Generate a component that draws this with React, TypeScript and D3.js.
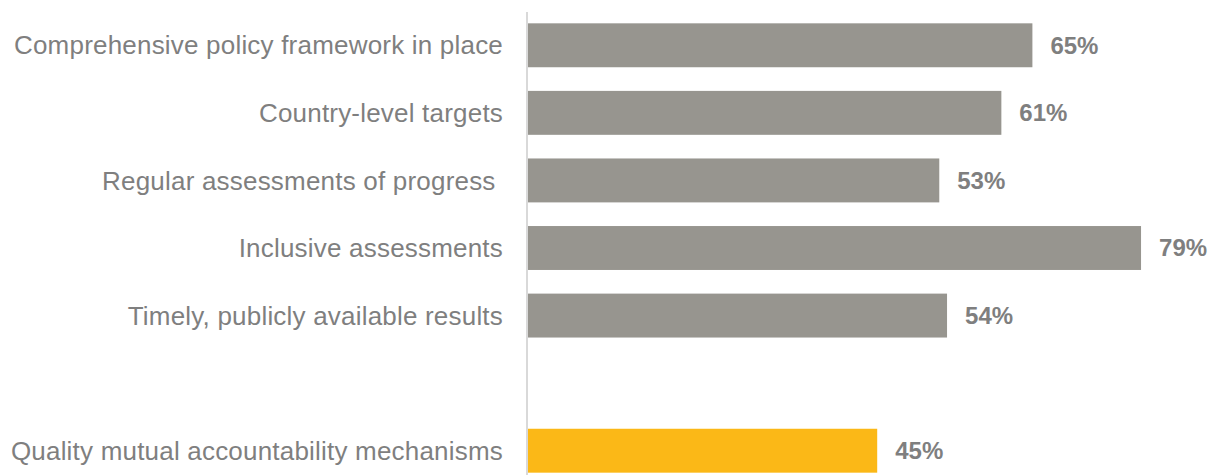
import React, { useEffect, useRef } from 'react';
import * as d3 from 'd3';

const categories = [
  'Comprehensive policy framework in place',
  'Country-level targets',
  'Regular assessments of progress ',
  'Inclusive assessments',
  'Timely, publicly available results',
  '',
  'Quality mutual accountability mechanisms',
];
const values = [0.65, 0.61, 0.53, 0.79, 0.54, null, 0.45];
const highlight = [false, false, false, false, false, false, true];

const W = 1211;
const H = 475;

const App: React.FC = () => {
  const svgRef = useRef<SVGSVGElement>(null);

  useEffect(() => {
    if (!svgRef.current) return;
    const svg = d3.select(svgRef.current);
    svg.selectAll('*').remove();

    const x0 = 528;
    const x = d3.scaleLinear().domain([0, 1]).range([x0, x0 + 776]);
    const y = d3.scaleBand<number>()
      .domain(d3.range(categories.length))
      .range([11.5, 484.5])
      .paddingInner(0.35)
      .paddingOuter(0.175);

    // bars
    svg.append('g')
      .selectAll('rect')
      .data(values.map((v, i) => ({ v, i })).filter(d => d.v !== null))
      .join('rect')
      .attr('x', x(0))
      .attr('y', d => y(d.i)!)
      .attr('width', d => x(d.v as number) - x(0))
      .attr('height', y.bandwidth())
      .attr('fill', d => highlight[d.i] ? '#FBB817' : '#97958F');

    // axis line
    svg.append('line')
      .attr('x1', x0 - 1).attr('x2', x0 - 1)
      .attr('y1', 12).attr('y2', H)
      .attr('stroke', '#D9D9D9')
      .attr('stroke-width', 2);

    // category labels
    svg.append('g')
      .selectAll('text')
      .data(categories)
      .join('text')
      .attr('x', 503)
      .attr('y', (_, i) => y(i)! + y.bandwidth() / 2)
      .attr('dy', '0.35em')
      .attr('text-anchor', 'end')
      .attr('font-family', 'Liberation Sans, Arial, sans-serif')
      .attr('font-size', 26)
      .attr('letter-spacing', 0.2)
      .attr('fill', '#7F7F7F')
      .style('white-space', 'pre')
      .text(d => d);

    // value labels
    svg.append('g')
      .selectAll('text')
      .data(values.map((v, i) => ({ v, i })).filter(d => d.v !== null))
      .join('text')
      .attr('x', d => x(d.v as number) + 18)
      .attr('y', d => y(d.i)! + y.bandwidth() / 2)
      .attr('dy', '0.35em')
      .attr('font-family', 'Liberation Sans, Arial, sans-serif')
      .attr('font-size', 24)
      .attr('font-weight', 'bold')
      .attr('fill', '#7F7F7F')
      .text(d => d3.format('.0%')(d.v as number));
  }, []);

  return (
    <svg
      ref={svgRef}
      width={W}
      height={H}
      style={{ position: 'absolute', left: 0, top: 0, background: '#fff' }}
    />
  );
};

export default App;
